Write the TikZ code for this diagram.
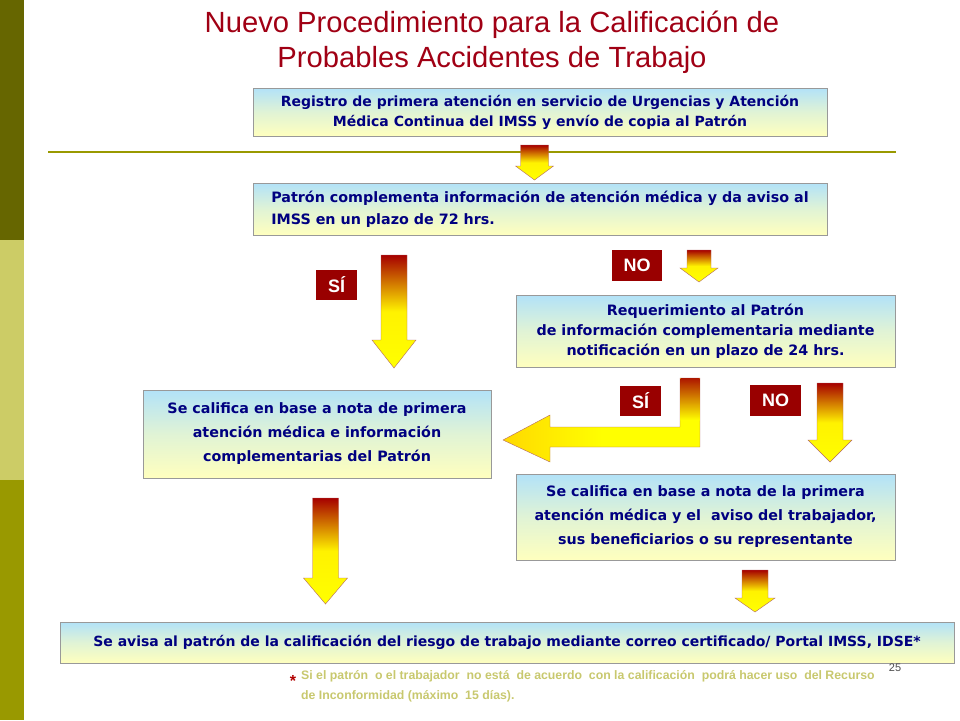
\documentclass[tikz,border=0pt]{standalone}
\usepackage{fontspec}
\setmainfont{Liberation Sans}
\newfontfamily\boxfont{DejaVu Sans}
\definecolor{barA}{RGB}{102,102,0}
\definecolor{barB}{RGB}{204,204,102}
\definecolor{barC}{RGB}{153,153,0}
\definecolor{boxtop}{RGB}{178,226,248}
\definecolor{boxbot}{RGB}{255,255,190}
\definecolor{ttl}{RGB}{160,0,20}
\definecolor{txt}{RGB}{0,0,128}
\definecolor{fnc}{RGB}{200,200,110}
\begin{document}
\begin{tikzpicture}[x=1pt,y=-1pt,
  box/.style={draw=gray!80,top color=boxtop,bottom color=boxbot,middle color=boxtop!40!boxbot,
    font=\boxfont\bfseries\fontsize{14.3}{20}\selectfont,text=txt,align=center,inner sep=0pt},
  lab/.style={fill=red!60!black,text=white,font=\bfseries\fontsize{18}{18}\selectfont,inner sep=0pt},
  arr/.style={draw=red!50!black!60,top color=red!65!black,bottom color=yellow,middle color=yellow!90!orange}]
\useasboundingbox (0,0) rectangle (960,720);
\fill[barA] (0,0) rectangle (24,240);
\fill[barB] (0,240) rectangle (24,480);
\fill[barC] (0,480) rectangle (24,720);
\node[text=ttl,font=\fontsize{29.2}{35}\selectfont,align=center] (title) at (492,42) {Nuevo Procedimiento para la Calificación de\\Probables Accidentes de Trabajo};
\draw[line width=1.5pt,barC] (48,152) coordinate (l1) -- (896,152) coordinate (l2);
\node[box,minimum width=574,minimum height=48,font=\boxfont\bfseries\fontsize{14}{20}\selectfont] (b1) at (540,112) {Registro de primera atención en servicio de Urgencias y Atención\\Médica Continua del IMSS y envío de copia al Patrón};
\node[box,minimum width=574,minimum height=52,align=left,font=\boxfont\bfseries\fontsize{14.3}{22}\selectfont] (b2) at (540,209) {Patrón complementa información de atención médica y da aviso al\\IMSS en un plazo de 72 hrs.};
\node[box,minimum width=379,minimum height=72] (b3) at (705.5,331) {Requerimiento al Patrón\\de información complementaria mediante\\notificación en un plazo de 24 hrs.};
\node[box,minimum width=348,minimum height=88,font=\boxfont\bfseries\fontsize{14.3}{24}\selectfont] (b4) at (317,434) {Se califica en base a nota de primera\\atención médica e información\\complementarias del Patrón};
\node[box,minimum width=379,minimum height=86,font=\boxfont\bfseries\fontsize{14.3}{24}\selectfont] (b5) at (705.5,517) {Se califica en base a nota de la primera\\atención médica y el \ aviso del trabajador,\\sus beneficiarios o su representante};
\node[box,minimum width=894,minimum height=41,font=\boxfont\bfseries\fontsize{14}{20}\selectfont] (b6) at (507,642.5) {Se avisa al patrón de la calificación del riesgo de trabajo mediante correo certificado/ Portal IMSS, IDSE*};
\node[lab,minimum width=41,minimum height=30] (s1) at (336.5,285) {SÍ};
\node[lab,minimum width=50,minimum height=31] (n1) at (637,265.5) {NO};
\node[lab,minimum width=41,minimum height=30] (s2) at (640.5,401) {SÍ};
\node[lab,minimum width=51,minimum height=31] (n2) at (775.5,400.5) {NO};
\newcommand\darr[6]{\path[arr] (#1-#4,#2) -- (#1+#4,#2) -- (#1+#4,#3-#6) -- (#1+#5,#3-#6) -- (#1,#3) -- (#1-#5,#3-#6) -- (#1-#4,#3-#6) -- cycle;}
\darr{534.5}{145}{180}{14}{19}{14}
\darr{699}{250}{282}{12}{19}{14}
\darr{394}{255}{368}{13}{22}{28}
\darr{830}{383}{462}{13}{22}{22}
\darr{325.5}{498}{604}{13}{22}{26}
\darr{755}{570}{612}{13}{20}{14}
\path[draw=red!50!black!60,left color=yellow!70!orange,right color=yellow,middle color=yellow] (503,440) -- (550,415) -- (550,427) -- (680,427) -- (680,378) -- (700,378) -- (700,447) -- (550,447) -- (550,462) -- cycle;
\path[top color=red!65!black,bottom color=yellow,opacity=0.9] (680.5,378.5) rectangle (699.5,420);
\node[text=red!70!black,font=\bfseries\fontsize{16}{16}\selectfont] (ast) at (293,681) {*};
\node[anchor=west,text=fnc,font=\bfseries\fontsize{12.3}{20}\selectfont,align=left,inner sep=0pt] (fn) at (301,686) {Si el patrón \ o el trabajador \ no está \ de acuerdo \ con la calificación \ podrá hacer uso \ del Recurso\\de Inconformidad (máximo \ 15 días).};
\node[font=\fontsize{11}{11}\selectfont,text=black!70] (pg) at (895,668) {25};
\end{tikzpicture}
\end{document}
